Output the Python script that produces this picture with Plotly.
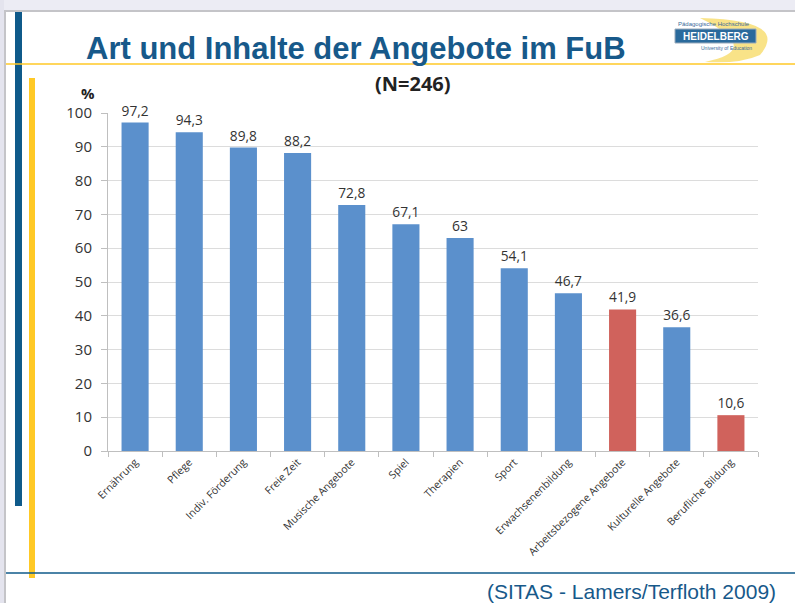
import plotly.graph_objects as go

categories = ["Ernährung", "Pflege", "Indiv. Förderung", "Freie Zeit", "Musische Angebote",
              "Spiel", "Therapien", "Sport", "Erwachsenenbildung", "Arbeitsbezogene Angebote",
              "Kulturelle Angebote", "Berufliche Bildung"]
values = [97.2, 94.3, 89.8, 88.2, 72.8, 67.1, 63, 54.1, 46.7, 41.9, 36.6, 10.6]
highlight = [False, False, False, False, False, False, False, False, False, True, False, True]
y_ticks = [0, 10, 20, 30, 40, 50, 60, 70, 80, 90, 100]

BLUE = "#5b90cc"
RED = "#d0625c"
DARK = "#17598a"
YEL = "#ffc926"

W, H = 795, 603
L, R, T, B = 108, 37, 113, 152
PW, PH = W - L - R, H - T - B


def px(x):
    return (x - L) / PW


def py(y):
    return (H - B - y) / PH


labels = [("%g" % v).replace(".", ",") for v in values]
colors = [RED if h else BLUE for h in highlight]

fig = go.Figure(go.Bar(
    x=categories, y=values, marker=dict(color=colors, line=dict(width=0)),
    text=labels, textposition="outside", cliponaxis=False,
    textfont=dict(family="Open Sans, Liberation Sans, sans-serif", size=14, color="#333333"),
    width=0.5,
))

shapes = []
# slide frame
shapes.append(dict(type="rect", xref="paper", yref="paper", x0=px(0), x1=px(W), y0=py(0), y1=py(11),
                   fillcolor="#ececf4", line=dict(width=0), layer="below"))
shapes.append(dict(type="rect", xref="paper", yref="paper", x0=px(0), x1=px(4), y0=py(0), y1=py(H),
                   fillcolor="#e4e4ee", line=dict(width=0), layer="below"))
shapes.append(dict(type="line", xref="paper", yref="paper", x0=px(4), x1=px(W), y0=py(11), y1=py(11),
                   line=dict(color="#c4c4c8", width=2)))
shapes.append(dict(type="line", xref="paper", yref="paper", x0=px(5), x1=px(5), y0=py(11), y1=py(H),
                   line=dict(color="#c4c4c8", width=2)))
# blue vertical bar
shapes.append(dict(type="rect", xref="paper", yref="paper", x0=px(15), x1=px(22), y0=py(12), y1=py(506),
                   fillcolor="#0f5a8a", line=dict(width=0)))
# yellow horizontal line
shapes.append(dict(type="line", xref="paper", yref="paper", x0=px(6), x1=px(W), y0=py(64), y1=py(64),
                   line=dict(color=YEL, width=1.5)))
# yellow vertical bar
shapes.append(dict(type="rect", xref="paper", yref="paper", x0=px(29), x1=px(35), y0=py(78), y1=py(578),
                   fillcolor=YEL, line=dict(width=0)))
# blue horizontal line
shapes.append(dict(type="line", xref="paper", yref="paper", x0=px(6), x1=px(W), y0=py(573), y1=py(573),
                   line=dict(color="#0f5a8a", width=1.5)))
# logo: yellow arc
arc = "M %f,%f Q %f,%f %f,%f Q %f,%f %f,%f Q %f,%f %f,%f Z" % (
    px(700), py(18), px(790), py(20), px(760), py(55),
    px(740), py(64), px(705), py(62),
    px(765), py(50), px(700), py(18))
shapes.append(dict(type="path", xref="paper", yref="paper", path=arc,
                   fillcolor="#f7dc6a", line=dict(width=0), opacity=0.8))
# logo: blue box
shapes.append(dict(type="rect", xref="paper", yref="paper", x0=px(675), x1=px(756), y0=py(29), y1=py(43),
                   fillcolor="#2a6a9c", line=dict(color="#9ab", width=1)))

annotations = [
    dict(text="<b>Art und Inhalte der Angebote im FuB</b>", x=px(356), y=py(48), xref="paper", yref="paper",
         showarrow=False, font=dict(family="Liberation Sans, Arial, sans-serif", size=31, color=DARK),
         xanchor="center", yanchor="middle"),
    dict(text="<b>(N=246)</b>", x=px(413), y=py(84), xref="paper", yref="paper",
         showarrow=False, font=dict(family="Open Sans, Liberation Sans, sans-serif", size=20, color="#222222"),
         xanchor="center", yanchor="middle"),
    dict(text="<b>%</b>", x=px(88), y=py(93), xref="paper", yref="paper",
         showarrow=False, font=dict(family="Open Sans, Liberation Sans, sans-serif", size=15, color="#222222"),
         xanchor="center", yanchor="middle"),
    dict(text="(SITAS - Lamers/Terfloth 2009)", x=px(778), y=py(591), xref="paper", yref="paper",
         showarrow=False, font=dict(family="Liberation Sans, Arial, sans-serif", size=21, color=DARK),
         xanchor="right", yanchor="middle"),
    dict(text="Pädagogische Hochschule", x=px(676), y=py(24), xref="paper", yref="paper",
         showarrow=False, font=dict(family="Liberation Sans, Arial, sans-serif", size=6, color="#3a6a9a"),
         xanchor="left", yanchor="middle"),
    dict(text="<b>HEIDELBERG</b>", x=px(715.5), y=py(36), xref="paper", yref="paper",
         showarrow=False, font=dict(family="Liberation Sans, Arial, sans-serif", size=10, color="white"),
         xanchor="center", yanchor="middle"),
    dict(text="University of Education", x=px(754), y=py(48), xref="paper", yref="paper",
         showarrow=False, font=dict(family="Liberation Sans, Arial, sans-serif", size=5, color="#3a6a9a"),
         xanchor="right", yanchor="middle"),
]

fig.update_layout(
    width=W, height=H, margin=dict(l=L, r=R, t=T, b=B, pad=0),
    paper_bgcolor="white", plot_bgcolor="white", showlegend=False,
    shapes=shapes, annotations=annotations,
    xaxis=dict(type="category", tickangle=-45, tickson="boundaries", ticks="outside", ticklen=5,
               tickcolor="#bfbfbf", showline=True, linecolor="#bfbfbf", linewidth=1,
               tickfont=dict(family="Open Sans, Liberation Sans, sans-serif", size=10.5, color="#333333"),
               showgrid=False),
    yaxis=dict(range=[0, 100], tickvals=y_ticks, ticks="outside", ticklen=6, tickcolor="#bfbfbf",
               showline=True, linecolor="#bfbfbf", linewidth=1, showgrid=True, gridcolor="#dcdcdc",
               zeroline=False, ticklabelstandoff=6,
               tickfont=dict(family="Open Sans, Liberation Sans, sans-serif", size=15, color="#333333")),
)

fig.write_html("out.html", config={"displayModeBar": False},
               post_script="document.body.style.margin='0';document.body.style.overflow='hidden';")
